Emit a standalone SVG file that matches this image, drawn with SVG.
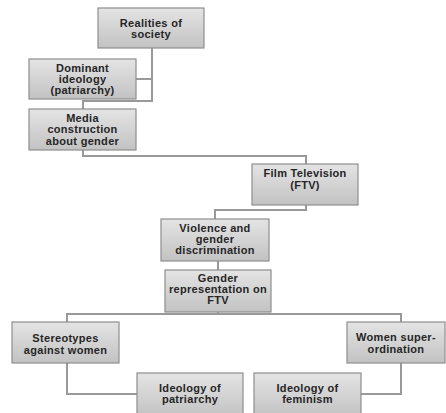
<svg xmlns="http://www.w3.org/2000/svg" width="446" height="413" viewBox="0 0 446 413">
<defs>
<linearGradient id="g" x1="0" y1="0" x2="0" y2="1">
<stop offset="0" stop-color="#e4e4e4"/>
<stop offset="1" stop-color="#c2c2c2"/>
</linearGradient>
<style>
.box{fill:url(#g);stroke:#8e8e8e;stroke-width:1.2}
.t{font-family:"Liberation Sans",Arial,sans-serif;font-size:11px;font-weight:bold;fill:#262626;text-anchor:middle;letter-spacing:0.3px}
.c{fill:none;stroke:#999;stroke-width:2}
</style>
</defs>
<rect width="446" height="413" fill="#fff"/>
<g id="connectors">
<polyline class="c" points="152,48 152,101 83,101 83,109"/>
<polyline class="c" points="152,79 136,79"/>
<polyline class="c" points="83,150 83,156 306,156 306,164"/>
<polyline class="c" points="306,205 306,210 215,210 215,219"/>
<polyline class="c" points="218,261 218,270"/>
<polyline class="c" points="218,312 218,314 67,314 67,322"/>
<polyline class="c" points="218,314 401,314 401,322"/>
<polyline class="c" points="67,363 67,394 137,394"/>
<polyline class="c" points="401,363 401,394 361,394"/>
</g>
<g id="realities"><rect class="box" x="98" y="8" width="106" height="40"/><text class="t" x="151" y="27">Realities of</text><text class="t" x="151" y="38">society</text></g>
<g id="dominant"><rect class="box" x="29" y="59" width="107" height="40"/><text class="t" x="82.5" y="72">Dominant</text><text class="t" x="82.5" y="83">ideology</text><text class="t" x="82.5" y="94">(patriarchy)</text></g>
<g id="media"><rect class="box" x="29" y="109" width="107" height="41"/><text class="t" x="82.5" y="122">Media</text><text class="t" x="82.5" y="133">construction</text><text class="t" x="82.5" y="145">about gender</text></g>
<g id="ftv"><rect class="box" x="252" y="164" width="106" height="41"/><text class="t" x="305" y="177">Film Television</text><text class="t" x="305" y="189">(FTV)</text></g>
<g id="violence"><rect class="box" x="161" y="219" width="108" height="42"/><text class="t" x="215" y="232">Violence and</text><text class="t" x="215" y="243">gender</text><text class="t" x="215" y="254">discrimination</text></g>
<g id="gender"><rect class="box" x="165" y="270" width="106" height="42"/><text class="t" x="218" y="282">Gender</text><text class="t" x="218" y="293">representation on</text><text class="t" x="218" y="304">FTV</text></g>
<g id="stereotypes"><rect class="box" x="12" y="322" width="107" height="41"/><text class="t" x="65.5" y="342">Stereotypes</text><text class="t" x="65.5" y="354">against women</text></g>
<g id="women"><rect class="box" x="347" y="322" width="98" height="41"/><text class="t" x="396" y="341">Women super-</text><text class="t" x="396" y="353">ordination</text></g>
<g id="patriarchy"><rect class="box" x="137" y="373" width="106" height="44"/><text class="t" x="190" y="392">Ideology of</text><text class="t" x="190" y="403">patriarchy</text></g>
<g id="feminism"><rect class="box" x="254" y="373" width="107" height="44"/><text class="t" x="307.5" y="392">Ideology of</text><text class="t" x="307.5" y="403">feminism</text></g>
</svg>
